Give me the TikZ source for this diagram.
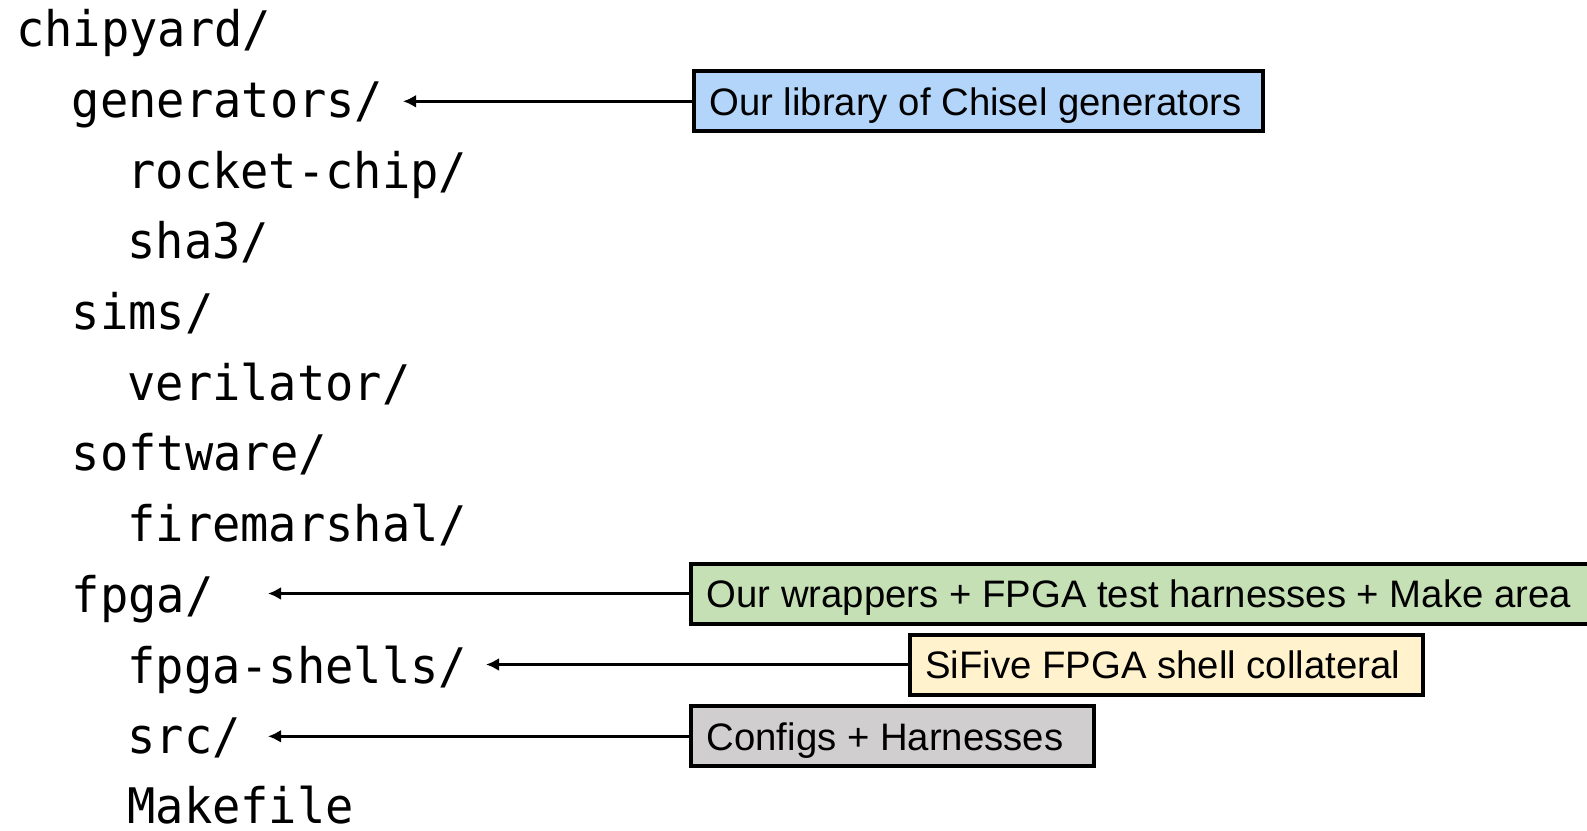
\documentclass[tikz,border=0pt]{standalone}
\usepackage{fontspec}
\newfontfamily\dirfont[FakeStretch=0.96]{DejaVu Sans Mono}
\newfontfamily\boxfont{Liberation Sans}
\usetikzlibrary{arrows.meta}
\definecolor{cblue}{RGB}{180,213,250}
\definecolor{cgreen}{RGB}{197,224,180}
\definecolor{cpeach}{RGB}{255,242,204}
\definecolor{cgray}{RGB}{208,206,206}
\begin{document}
\begin{tikzpicture}[x=1pt,y=1pt,
  dir/.style={anchor=base west,inner sep=0pt,font=\dirfont\fontsize{49}{49}\selectfont},
  note/.style={draw=black,line width=4pt,anchor=west,inner xsep=15.4pt,inner ysep=0pt,minimum height=60pt,text height=27.4pt,text depth=0pt,font=\boxfont\fontsize{38.3}{38.3}\selectfont},
  conn/.style={line width=3.4pt,-{Latex[length=13pt,width=13pt]}}]
\useasboundingbox (0,0) rectangle (1587,-830);
\clip (0,0) rectangle (1587,-830);
\def\xa{16}\def\xb{71.6}\def\xc{127.2}
\node[dir] (d0) at (\xa,-46.7) {chipyard/};
\node[dir] (d1) at (\xb,-117.4) {generators/};
\node[dir] (d2) at (\xc,-188.1) {rocket-chip/};
\node[dir] (d3) at (\xc,-258.8) {sha3/};
\node[dir] (d4) at (\xb,-329.5) {sims/};
\node[dir] (d5) at (\xc,-400.2) {verilator/};
\node[dir] (d6) at (\xb,-470.9) {software/};
\node[dir] (d7) at (\xc,-541.6) {firemarshal/};
\node[dir] (d8) at (\xb,-612.3) {fpga/};
\node[dir] (d9) at (\xc,-683.0) {fpga-shells/};
\node[dir] (d10) at (\xc,-753.7) {src/};
\node[dir] (d11) at (\xc,-823.5) {Makefile};
\node[note,fill=cblue] (nb) at (692,-101.3) {\makebox[538pt][l]{Our library of Chisel generators}};
\node[note,fill=cgreen] (ng) at (689.3,-593.5) {\makebox[900pt][l]{Our wrappers + FPGA test harnesses + Make area}};
\node[note,fill=cpeach] (np) at (908,-664.5) {\makebox[482pt][l]{SiFive FPGA shell collateral}};
\node[note,fill=cgray] (ny) at (689.3,-736.3) {\makebox[372pt][l]{Configs + Harnesses}};
\coordinate (tb) at (403,-101.3);
\coordinate (tg) at (268,-593.5);
\coordinate (tp) at (486,-664.5);
\coordinate (ty) at (268,-736.3);
\draw[conn] (nb.west) -- (tb);
\draw[conn] (ng.west) -- (tg);
\draw[conn] (np.west) -- (tp);
\draw[conn] (ny.west) -- (ty);
\end{tikzpicture}
\end{document}
